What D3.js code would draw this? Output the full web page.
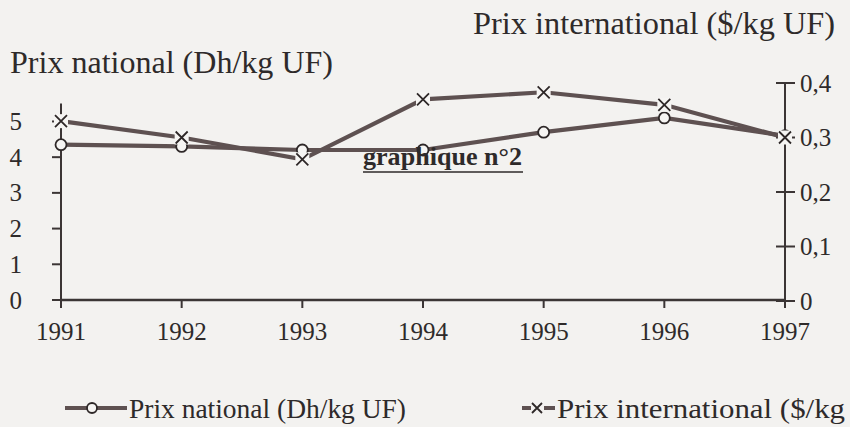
<!DOCTYPE html>
<html><head><meta charset="utf-8">
<script src="https://cdn.jsdelivr.net/npm/d3@7/dist/d3.min.js"></script>
<style>
html,body{margin:0;padding:0;background:#f3f2f0;}
svg{display:block;font-family:"Liberation Serif","Times New Roman",serif;}
</style></head>
<body>
<svg id="chart" width="850" height="427"></svg>
<script>
const years = ["1991","1992","1993","1994","1995","1996","1997"];
const prixNational = [4.35, 4.3, 4.2, 4.2, 4.7, 5.1, 4.6];
const prixInternational = [0.33, 0.30, 0.26, 0.37, 0.383, 0.36, 0.30];
const leftTicks = [0,1,2,3,4,5];
const rightTicks = [0,0.1,0.2,0.3,0.4];
const leftTitle = "Prix national (Dh/kg UF)";
const rightTitle = "Prix international ($/kg UF)";
const legendLabels = ["Prix national (Dh/kg UF)", "Prix international ($/kg"];
const caption = "graphique n°2";

const svg = d3.select("#chart");
const lineCol = "#5e5151";
const axisCol = "#3b3535";
const textCol = "#2e2a2a";

const x = d3.scalePoint().domain(years).range([61, 785]);
const yL = d3.scaleLinear().domain([0, 5.5]).range([300, 103.6]);
const yR = d3.scaleLinear().domain([0, 0.4]).range([301, 83]);

// axes lines
const g = svg.append("g");
g.append("line").attr("x1", x(years[0])).attr("x2", x(years[0])).attr("y1", yL(0)).attr("y2", yL(5.5)).attr("stroke", axisCol).attr("stroke-width", 2);
g.append("line").attr("x1", x(years[6])).attr("x2", x(years[6])).attr("y1", yR(0)+1).attr("y2", yR(0.4)).attr("stroke", axisCol).attr("stroke-width", 2);
g.append("line").attr("x1", x(years[0])-1).attr("x2", x(years[6])+1).attr("y1", 300).attr("y2", 300).attr("stroke", axisCol).attr("stroke-width", 2.4);

// left ticks
leftTicks.forEach(t => {
  g.append("line").attr("x1", 52).attr("x2", t===0 ? 68 : 61).attr("y1", yL(t)).attr("y2", yL(t)).attr("stroke", axisCol).attr("stroke-width", 2);
  g.append("text").attr("x", 22).attr("y", yL(t)+8.5).attr("text-anchor","end").attr("font-size", 25).attr("fill", textCol).text(t);
});
// right ticks
rightTicks.forEach(t => {
  g.append("line").attr("x1", 776).attr("x2", 795).attr("y1", yR(t)).attr("y2", yR(t)).attr("stroke", axisCol).attr("stroke-width", 2);
  g.append("text").attr("x", 800).attr("y", yR(t)+8.5).attr("font-size", 25).attr("fill", textCol).text(t===0 ? "0" : String(t).replace(".", ","));
});
// bottom ticks
years.forEach(yv => {
  g.append("line").attr("x1", x(yv)).attr("x2", x(yv)).attr("y1", 300).attr("y2", 308).attr("stroke", axisCol).attr("stroke-width", 2);
  g.append("text").attr("x", x(yv)).attr("y", 340).attr("text-anchor","middle").attr("font-size", 25).attr("fill", textCol).text(yv);
});

// titles
svg.append("text").attr("x", 10).attr("y", 73).attr("font-size", 31).attr("fill", textCol)
  .attr("textLength", 323).attr("lengthAdjust","spacingAndGlyphs").text(leftTitle);
svg.append("text").attr("x", 473).attr("y", 34).attr("font-size", 31).attr("fill", textCol)
  .attr("textLength", 362).attr("lengthAdjust","spacingAndGlyphs").text(rightTitle);

// lines
const lineN = d3.line().x((d,i)=>x(years[i])).y(d=>yL(d));
const lineI = d3.line().x((d,i)=>x(years[i])).y(d=>yR(d));
svg.append("path").attr("d", lineI(prixInternational)).attr("fill","none").attr("stroke", lineCol).attr("stroke-width", 4.2);
svg.append("path").attr("d", lineN(prixNational)).attr("fill","none").attr("stroke", lineCol).attr("stroke-width", 4.2);

// markers national: circles
svg.append("g").selectAll("circle").data(prixNational).join("circle")
  .attr("cx",(d,i)=>x(years[i])).attr("cy", d=>yL(d)).attr("r", 5.5)
  .attr("fill","#f6f5f3").attr("stroke","#2e2828").attr("stroke-width",1.8);
// markers international: X
const xm = svg.append("g");
prixInternational.forEach((d,i)=>{
  const cx = x(years[i]), cy = yR(d), s = 6;
  xm.append("rect").attr("x", cx-7).attr("y", cy-7).attr("width",14).attr("height",14).attr("fill","#f6f5f3");
  xm.append("path").attr("d", `M${cx-s},${cy-s}L${cx+s},${cy+s}M${cx-s},${cy+s}L${cx+s},${cy-s}`)
    .attr("stroke","#2e2828").attr("stroke-width",1.8).attr("fill","none");
});

// caption
svg.append("text").attr("x", 363).attr("y", 165).attr("font-size", 25).attr("font-weight","bold").attr("fill", textCol)
  .attr("textLength", 159).attr("lengthAdjust","spacingAndGlyphs").text(caption);
svg.append("line").attr("x1", 363).attr("x2", 523).attr("y1", 172).attr("y2", 172).attr("stroke", textCol).attr("stroke-width", 1.6);

// legend
const lg = svg.append("g");
lg.append("line").attr("x1", 65).attr("x2", 127).attr("y1", 408).attr("y2", 408).attr("stroke", lineCol).attr("stroke-width", 4.2);
lg.append("circle").attr("cx", 92).attr("cy", 408).attr("r", 5).attr("fill","#f6f5f3").attr("stroke","#2e2828").attr("stroke-width",1.8);
lg.append("text").attr("x", 129).attr("y", 418).attr("font-size", 27).attr("fill", textCol)
  .attr("textLength", 277).attr("lengthAdjust","spacingAndGlyphs").text(legendLabels[0]);
lg.append("line").attr("x1", 522).attr("x2", 555).attr("y1", 408).attr("y2", 408).attr("stroke", lineCol).attr("stroke-width", 4.2);
lg.append("rect").attr("x", 531).attr("y", 401).attr("width",13).attr("height",14).attr("fill","#f3f2f0");
lg.append("path").attr("d", "M532,403L542,413M532,413L542,403").attr("stroke","#2e2828").attr("stroke-width",1.8);
lg.append("text").attr("x", 557).attr("y", 418).attr("font-size", 27).attr("fill", textCol)
  .attr("textLength", 288).attr("lengthAdjust","spacingAndGlyphs").text(legendLabels[1]);
</script>
</body></html>
